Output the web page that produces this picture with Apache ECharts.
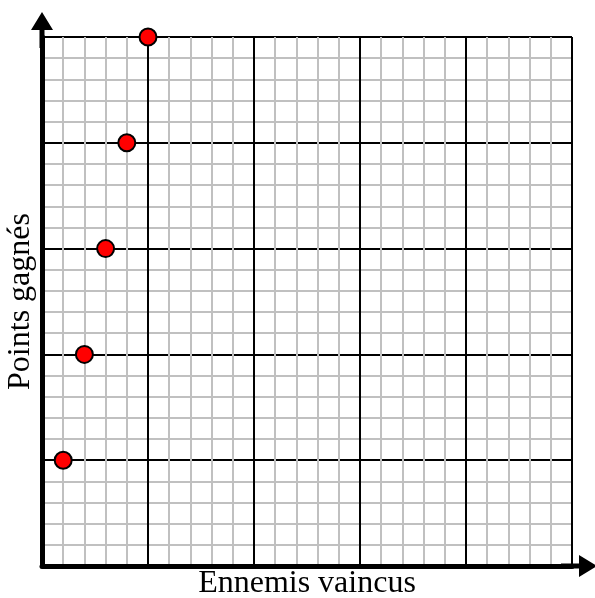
<!DOCTYPE html>
<html>
<head>
<meta charset="utf-8">
<script src="https://cdn.jsdelivr.net/npm/echarts@6/dist/echarts.min.js"></script>
<style>
    html, body { margin: 0; padding: 0; background: #fff; }
    #main { width: 595px; height: 598px; }
</style>
</head>
<body>
<div id="main"></div>
<script>
    // données
    var ennemis = [1, 2, 3, 4, 5];
    var points = [5, 10, 15, 20, 25];
    var axisMin = 0;
    var axisMax = 25;
    var majorStep = 5;

    var pts = [];
    for (var i = 0; i < ennemis.length; i++) {
        pts.push([ennemis[i], points[i]]);
    }

    // flèche + tige, pointe vers le haut
    var arrowPath = 'path://M11,0 L22,18 L13.5,18 L13.5,36 L8.5,36 L8.5,18 L0,18 Z';

    function makeAxis(name, gap) {
        return {
            type: 'value',
            min: axisMin,
            max: axisMax,
            interval: majorStep,
            name: name,
            nameLocation: 'middle',
            nameGap: gap,
            nameTextStyle: {
                fontFamily: 'Liberation Serif',
                fontSize: 32,
                color: '#000'
            },
            axisLine: {
                show: true,
                symbol: ['none', arrowPath],
                symbolSize: [22, 36],
                symbolOffset: [0, 7],
                lineStyle: { color: '#000', width: 5 }
            },
            axisTick: { show: false },
            axisLabel: { show: false },
            minorTick: { show: false, splitNumber: 5 },
            minorSplitLine: {
                show: true,
                lineStyle: { color: '#c0c0c0', width: 2 }
            },
            splitLine: {
                show: true,
                lineStyle: { color: '#000', width: 2 }
            }
        };
    }

    var option = {
        animation: false,
        backgroundColor: '#fff',
        grid: { left: 42, top: 37, right: 23, bottom: 32, outerBoundsMode: 'none' },
        xAxis: makeAxis('Ennemis vaincus', 2),
        yAxis: makeAxis('Points gagnés', 5),
        series: [{
            type: 'scatter',
            data: pts,
            symbol: 'circle',
            symbolSize: 17,
            clip: false,
            itemStyle: {
                color: '#ff0000',
                borderColor: '#000',
                borderWidth: 2,
                opacity: 1
            }
        }]
    };

    var myChart = echarts.init(document.getElementById('main'));
    myChart.setOption(option);
</script>
</body>
</html>
